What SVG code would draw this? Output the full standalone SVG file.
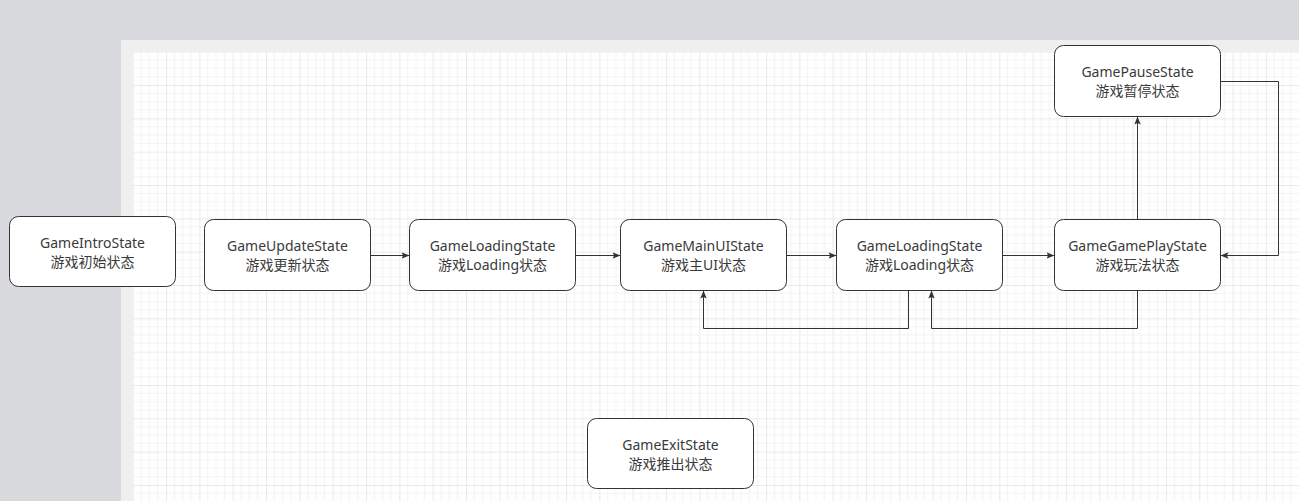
<svg xmlns="http://www.w3.org/2000/svg" width="1299" height="501" viewBox="0 0 1299 501">
<style>
.node rect{fill:#ffffff;stroke:#333333;stroke-width:1}
.node text{font-family:"Noto Sans","Noto Sans CJK SC",sans-serif;font-size:14px;fill:#3a3a3a;text-anchor:middle}
.edge{fill:none;stroke:#333333;stroke-width:1}
</style>
<defs>
<pattern id="grid" x="132.7" y="51.7" width="33.33" height="33.33" patternUnits="userSpaceOnUse">
<rect width="33.33" height="33.33" fill="#ffffff"/>
<path d="M8.33 0V33.33M16.67 0V33.33M25 0V33.33M0 8.33H33.33M0 16.67H33.33M0 25H33.33" stroke="#f4f4f4" stroke-width="1" fill="none"/>
<path d="M0.5 0V33.33M0 0.5H33.33" stroke="#eaeaea" stroke-width="1" fill="none"/>
</pattern>
<marker id="arr" viewBox="0 0 10 10" refX="10" refY="5" markerWidth="8" markerHeight="8" markerUnits="userSpaceOnUse" orient="auto">
<path d="M0 1L10 5L0 9L2 5Z" fill="#333333"/>
</marker>
</defs>
<rect x="0" y="0" width="1299" height="501" fill="#d9dade"/>
<rect x="121" y="40" width="1178" height="461" fill="#efefef"/>
<rect x="132.7" y="51.7" width="1166.3" height="449.3" fill="url(#grid)"/>
<g id="connectors">
<path class="edge" d="M370.5 255.5H409.5" marker-end="url(#arr)"/>
<path class="edge" d="M575.5 255.5H620.5" marker-end="url(#arr)"/>
<path class="edge" d="M786.5 255.5H836.5" marker-end="url(#arr)"/>
<path class="edge" d="M1002.5 255.5H1054.5" marker-end="url(#arr)"/>
<path class="edge" d="M908.5 290.5V328.5H703.5V290.5" marker-end="url(#arr)"/>
<path class="edge" d="M1137.5 290.5V328.5H931.5V290.5" marker-end="url(#arr)"/>
<path class="edge" d="M1137.5 219.5V116.5" marker-end="url(#arr)"/>
<path class="edge" d="M1220.5 81.5H1278.5V255.5H1220.5" marker-end="url(#arr)"/>
</g>
<g id="intro" class="node"><rect x="9.5" y="216.5" width="166" height="70" rx="9"/><text x="92.5" y="247.5">GameIntroState</text><text x="92.5" y="266.5">游戏初始状态</text></g>
<g id="update" class="node"><rect x="204.5" y="219.5" width="166" height="71" rx="9"/><text x="287.5" y="251">GameUpdateState</text><text x="287.5" y="270">游戏更新状态</text></g>
<g id="loading1" class="node"><rect x="409.5" y="219.5" width="166" height="71" rx="9"/><text x="492.5" y="251">GameLoadingState</text><text x="492.5" y="270">游戏Loading状态</text></g>
<g id="mainui" class="node"><rect x="620.5" y="219.5" width="166" height="71" rx="9"/><text x="703.5" y="251">GameMainUIState</text><text x="703.5" y="270">游戏主UI状态</text></g>
<g id="loading2" class="node"><rect x="836.5" y="219.5" width="166" height="71" rx="9"/><text x="919.5" y="251">GameLoadingState</text><text x="919.5" y="270">游戏Loading状态</text></g>
<g id="gameplay" class="node"><rect x="1054.5" y="219.5" width="166" height="71" rx="9"/><text x="1137.5" y="251">GameGamePlayState</text><text x="1137.5" y="270">游戏玩法状态</text></g>
<g id="pause" class="node"><rect x="1054.5" y="45.5" width="166" height="71" rx="9"/><text x="1137.5" y="77">GamePauseState</text><text x="1137.5" y="96">游戏暂停状态</text></g>
<g id="exit" class="node"><rect x="587.5" y="418.5" width="166" height="70" rx="9"/><text x="670.5" y="449.5">GameExitState</text><text x="670.5" y="468.5">游戏推出状态</text></g>
</svg>
